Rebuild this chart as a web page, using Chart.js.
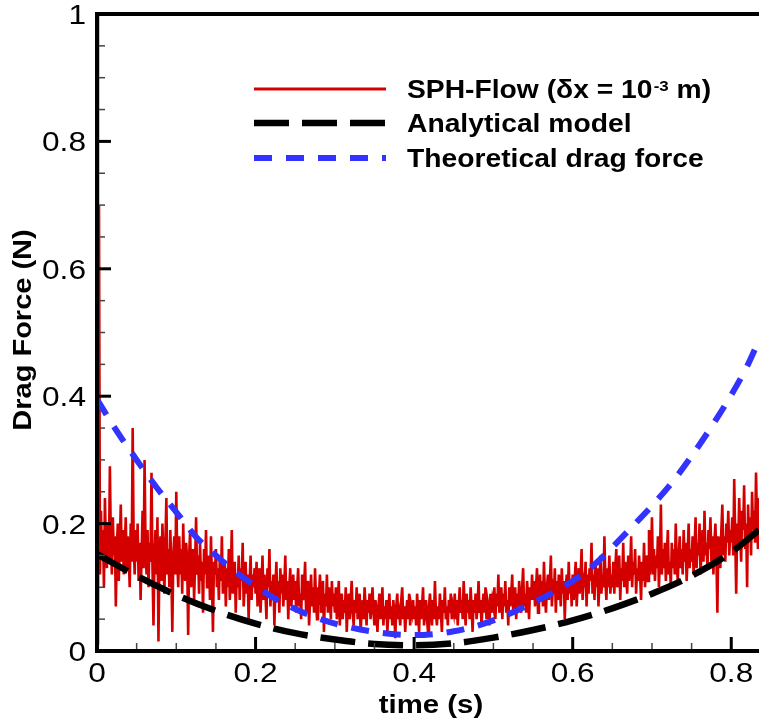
<!DOCTYPE html>
<html>
<head>
<meta charset="utf-8">
<script src="https://cdn.jsdelivr.net/npm/chart.js@4.4.1/dist/chart.umd.min.js"></script>
<style>
  html, body { margin: 0; padding: 0; background: #fff; }
  #wrap { width: 759px; height: 724px; }
</style>
</head>
<body>
<div id="wrap"><canvas id="dragChart" width="759" height="724"></canvas></div>
<script>
// SPH-Flow signal, one value every 0.00125 s starting at t = 0 (40 values per 0.05 s)
const sphStep = 0.00125;
const sphForce = [
  1.3, 0.01, 0.7, 0.12, 0.22, 0.15, 0.19, 0.1, 0.24, 0.16,
  0.13, 0.2, 0.14, 0.29, 0.17, 0.12, 0.21, 0.15, 0.18, 0.07,
  0.16, 0.2, 0.11, 0.17, 0.23, 0.14, 0.19, 0.12, 0.16, 0.21,
  0.13, 0.18, 0.15, 0.1, 0.2, 0.14, 0.35, 0.17, 0.12, 0.19,
  // 0.05
  0.14, 0.2, 0.11, 0.17, 0.08, 0.15, 0.22, 0.13, 0.3, 0.16,
  0.12, 0.19, 0.1, 0.17, 0.14, 0.28, 0.13, 0.04, 0.15, 0.19,
  0.12, 0.21, 0.015, 0.14, 0.18, 0.11, 0.2, 0.15, 0.09, 0.17,
  0.24, 0.12, 0.16, 0.1, 0.19, 0.13, 0.03, 0.15, 0.18, 0.12,
  // 0.1
  0.25, 0.14, 0.1, 0.18, 0.12, 0.16, 0.09, 0.2, 0.13, 0.11,
  0.17, 0.14, 0.025, 0.15, 0.19, 0.1, 0.13, 0.16, 0.08, 0.14,
  0.21, 0.12, 0.15, 0.09, 0.17, 0.11, 0.14, 0.06, 0.16, 0.12,
  0.19, 0.1, 0.13, 0.15, 0.08, 0.18, 0.11, 0.03, 0.14, 0.12,
  // 0.15
  0.16, 0.1, 0.13, 0.08, 0.15, 0.11, 0.18, 0.09, 0.12, 0.14,
  0.07, 0.13, 0.1, 0.16, 0.08, 0.12, 0.19, 0.09, 0.11, 0.14,
  0.06, 0.12, 0.1, 0.15, 0.08, 0.13, 0.11, 0.17, 0.07, 0.1,
  0.14, 0.09, 0.12, 0.05, 0.11, 0.15, 0.08, 0.12, 0.1, 0.13,
  // 0.2
  0.09, 0.14, 0.07, 0.11, 0.13, 0.06, 0.1, 0.15, 0.08, 0.12,
  0.09, 0.05, 0.13, 0.1, 0.16, 0.07, 0.11, 0.09, 0.12, 0.04,
  0.1, 0.14, 0.08, 0.11, 0.06, 0.13, 0.09, 0.12, 0.07, 0.1,
  0.15, 0.08, 0.11, 0.05, 0.1, 0.13, 0.07, 0.09, 0.12, 0.08,
  // 0.25
  0.11, 0.06, 0.1, 0.13, 0.07, 0.09, 0.05, 0.12, 0.08, 0.1,
  0.14, 0.06, 0.09, 0.11, 0.04, 0.08, 0.12, 0.07, 0.1, 0.06,
  0.13, 0.08, 0.05, 0.1, 0.09, 0.12, 0.06, 0.08, 0.11, 0.03,
  0.09, 0.07, 0.12, 0.06, 0.1, 0.08, 0.05, 0.11, 0.07, 0.09,
  // 0.3
  0.06, 0.1, 0.05, 0.08, 0.11, 0.04, 0.07, 0.09, 0.05, 0.08,
  0.06, 0.1, 0.03, 0.07, 0.09, 0.05, 0.08, 0.11, 0.06, 0.04,
  0.08, 0.06, 0.1, 0.05, 0.07, 0.09, 0.03, 0.06, 0.08, 0.05,
  0.1, 0.07, 0.04, 0.08, 0.06, 0.09, 0.05, 0.07, 0.1, 0.06,
  // 0.35
  0.04, 0.08, 0.06, 0.03, 0.07, 0.09, 0.05, 0.06, 0.1, 0.04,
  0.07, 0.05, 0.08, 0.03, 0.06, 0.09, 0.05, 0.07, 0.04, 0.08,
  0.06, 0.02, 0.07, 0.09, 0.05, 0.06, 0.04, 0.08, 0.1, 0.05,
  0.07, 0.03, 0.06, 0.08, 0.05, 0.09, 0.04, 0.07, 0.06, 0.08,
  // 0.4
  0.05, 0.07, 0.04, 0.09, 0.06, 0.03, 0.08, 0.05, 0.07, 0.1,
  0.04, 0.06, 0.08, 0.05, 0.03, 0.07, 0.09, 0.06, 0.04, 0.08,
  0.05, 0.11, 0.06, 0.04, 0.07, 0.05, 0.09, 0.06, 0.03, 0.08,
  0.06, 0.1, 0.05, 0.07, 0.04, 0.08, 0.06, 0.09, 0.05, 0.07,
  // 0.45
  0.06, 0.09, 0.05, 0.08, 0.04, 0.07, 0.1, 0.06, 0.08, 0.05,
  0.11, 0.07, 0.04, 0.09, 0.06, 0.08, 0.05, 0.1, 0.07, 0.03,
  0.08, 0.06, 0.09, 0.05, 0.07, 0.11, 0.06, 0.08, 0.04, 0.07,
  0.09, 0.06, 0.1, 0.05, 0.08, 0.07, 0.04, 0.09, 0.06, 0.08,
  // 0.5
  0.07, 0.1, 0.05, 0.09, 0.07, 0.12, 0.06, 0.08, 0.1, 0.05,
  0.09, 0.07, 0.11, 0.06, 0.08, 0.04, 0.1, 0.07, 0.09, 0.12,
  0.06, 0.08, 0.1, 0.05, 0.09, 0.07, 0.11, 0.08, 0.06, 0.1,
  0.13, 0.07, 0.09, 0.06, 0.11, 0.08, 0.05, 0.1, 0.08, 0.12,
  // 0.55
  0.08, 0.11, 0.07, 0.1, 0.13, 0.06, 0.09, 0.12, 0.08, 0.11,
  0.07, 0.14, 0.09, 0.06, 0.1, 0.12, 0.08, 0.11, 0.15, 0.07,
  0.1, 0.09, 0.13, 0.06, 0.11, 0.08, 0.12, 0.1, 0.07, 0.13,
  0.09, 0.11, 0.05, 0.1, 0.12, 0.08, 0.14, 0.09, 0.11, 0.07,
  // 0.6
  0.12, 0.08, 0.11, 0.14, 0.07, 0.1, 0.13, 0.09, 0.12, 0.16,
  0.08, 0.11, 0.1, 0.14, 0.07, 0.12, 0.09, 0.13, 0.11, 0.17,
  0.09, 0.12, 0.08, 0.14, 0.1, 0.13, 0.07, 0.11, 0.15, 0.09,
  0.12, 0.1, 0.18, 0.11, 0.08, 0.13, 0.1, 0.15, 0.09, 0.12,
  // 0.65
  0.1, 0.14, 0.09, 0.13, 0.16, 0.1, 0.12, 0.15, 0.08, 0.13,
  0.11, 0.17, 0.1, 0.14, 0.12, 0.09, 0.15, 0.11, 0.13, 0.18,
  0.1, 0.14, 0.12, 0.16, 0.09, 0.13, 0.11, 0.15, 0.12, 0.08,
  0.14, 0.11, 0.17, 0.1, 0.13, 0.15, 0.11, 0.19, 0.12, 0.14,
  // 0.7
  0.21, 0.12, 0.16, 0.11, 0.15, 0.13, 0.18, 0.1, 0.14, 0.23,
  0.12, 0.16, 0.13, 0.17, 0.11, 0.15, 0.19, 0.12, 0.14, 0.1,
  0.17, 0.13, 0.16, 0.12, 0.2, 0.14, 0.11, 0.15, 0.18, 0.13,
  0.16, 0.12, 0.19, 0.14, 0.17, 0.11, 0.15, 0.2, 0.13, 0.16,
  // 0.75
  0.14, 0.18, 0.12, 0.16, 0.21, 0.13, 0.17, 0.15, 0.2, 0.12,
  0.16, 0.19, 0.14, 0.22, 0.15, 0.17, 0.13, 0.19, 0.16, 0.21,
  0.14, 0.18, 0.12, 0.17, 0.2, 0.15, 0.06, 0.18, 0.16, 0.13,
  0.19, 0.23, 0.15, 0.18, 0.14, 0.2, 0.17, 0.22, 0.15, 0.19,
  // 0.8
  0.17, 0.21, 0.15, 0.27, 0.18, 0.09, 0.2, 0.16, 0.24, 0.18,
  0.14, 0.22, 0.19, 0.26, 0.16, 0.2, 0.1, 0.23, 0.17, 0.21,
  0.15, 0.25, 0.19, 0.22, 0.17, 0.28, 0.2, 0.16, 0.24
];

// analytical model
const modelTime  = [0, 0.05, 0.1, 0.15, 0.2, 0.25, 0.3, 0.35, 0.4, 0.45, 0.5, 0.55, 0.6, 0.65, 0.7, 0.75, 0.8, 0.835];
const modelForce = [0.152, 0.118, 0.088, 0.063, 0.043, 0.028, 0.018, 0.011, 0.009, 0.012, 0.021, 0.033, 0.048, 0.067, 0.09, 0.118, 0.155, 0.19];

// theoretical drag force
const theoryTime  = [0, 0.025, 0.05, 0.075, 0.1, 0.125, 0.15, 0.175, 0.2, 0.225, 0.25, 0.275, 0.3, 0.35, 0.4, 0.45, 0.5, 0.55, 0.6, 0.625, 0.65, 0.675, 0.7, 0.725, 0.75, 0.775, 0.8, 0.82, 0.835];
const theoryForce = [0.395, 0.345, 0.3, 0.257, 0.218, 0.179, 0.15, 0.124, 0.102, 0.082, 0.066, 0.053, 0.043, 0.03, 0.025, 0.031, 0.048, 0.076, 0.11, 0.133, 0.163, 0.195, 0.228, 0.264, 0.306, 0.352, 0.402, 0.447, 0.488];

const xMax = 0.835;
const xTitle = 'time (s)';
const yTitle = 'Drag Force (N)';
const legendNames = ['SPH-Flow (\u03b4x = 10-3 m)', 'Analytical model', 'Theoretical drag force'];

const labelFont = 'Liberation Sans, Arial, Helvetica, sans-serif';
const stretch = 1.13;   // text in the original is a bit wide

function toPoints(xs, ys) {
  return ys.map((v, i) => ({ x: xs[i], y: v }));
}
const sphPoints = sphForce.map((v, i) => ({ x: i * sphStep, y: v }));

function wideText(ctx, txt, x, y, align, sx) {
  ctx.save();
  ctx.translate(x, y);
  ctx.scale(sx || stretch, 1);
  ctx.textAlign = align;
  ctx.fillText(txt, 0, 0);
  ctx.restore();
}
const fmt = v => String(+v.toFixed(1));

// frame, inward ticks, tick labels and axis titles (tecplot look)
const framePlugin = {
  id: 'frame',
  afterDatasetsDraw(chart) {
    const { ctx, chartArea: a, scales } = chart;
    const xs = scales.x, ys = scales.y;
    ctx.save();
    ctx.lineCap = 'butt';
    // minor ticks
    ctx.strokeStyle = '#444';
    ctx.lineWidth = 1.5;
    for (let k = 1; k * 0.05 < xMax; k++) {
      if (k % 4 === 0) continue;
      const px = xs.getPixelForValue(k * 0.05);
      ctx.beginPath(); ctx.moveTo(px, a.bottom); ctx.lineTo(px, a.bottom - 8); ctx.stroke();
    }
    for (let k = 1; k < 20; k++) {
      if (k % 4 === 0) continue;
      const py = ys.getPixelForValue(k * 0.05);
      ctx.beginPath(); ctx.moveTo(a.left, py); ctx.lineTo(a.left + 8, py); ctx.stroke();
    }
    // major ticks
    ctx.strokeStyle = '#000';
    ctx.lineWidth = 3;
    xs.ticks.forEach(t => {
      const px = xs.getPixelForValue(t.value);
      ctx.beginPath(); ctx.moveTo(px, a.bottom); ctx.lineTo(px, a.bottom - 14); ctx.stroke();
    });
    ys.ticks.forEach(t => {
      const py = ys.getPixelForValue(t.value);
      ctx.beginPath(); ctx.moveTo(a.left, py); ctx.lineTo(a.left + 14, py); ctx.stroke();
    });
    // frame
    ctx.lineWidth = 4;
    ctx.beginPath();
    ctx.moveTo(a.right + 2, a.top);
    ctx.lineTo(a.left, a.top);
    ctx.lineTo(a.left, a.bottom);
    ctx.lineTo(a.right + 2, a.bottom);
    ctx.stroke();

    // tick labels
    ctx.fillStyle = '#000';
    ctx.textBaseline = 'alphabetic';
    ctx.font = '28px ' + labelFont;
    xs.ticks.forEach(t => {
      wideText(ctx, fmt(t.value), xs.getPixelForValue(t.value), a.bottom + 31, 'center');
    });
    ys.ticks.forEach(t => {
      wideText(ctx, fmt(t.value), a.left - 11, ys.getPixelForValue(t.value) + 10, 'right');
    });
    // axis titles
    ctx.font = 'bold 26px ' + labelFont;
    wideText(ctx, xTitle, (a.left + a.right) / 2 + 3, 713, 'center');
    ctx.save();
    ctx.translate(31, 330);
    ctx.rotate(-Math.PI / 2);
    ctx.font = 'bold 25px ' + labelFont;
    wideText(ctx, yTitle, 0, 0, 'center', 1.16);
    ctx.restore();
    ctx.restore();
  }
};

// legend drawn by hand so the superscript can be kept
const legendPlugin = {
  id: 'legendBox',
  afterDraw(chart) {
    const { ctx } = chart;
    const rowY = [89, 123, 158];
    ctx.save();
    rowY.forEach((y, i) => {
      const d = chart.data.datasets[i];
      ctx.strokeStyle = d.borderColor;
      ctx.lineWidth = i === 0 ? 3 : d.borderWidth;
      ctx.setLineDash(d.borderDash || []);
      ctx.beginPath(); ctx.moveTo(254, y); ctx.lineTo(386, y); ctx.stroke();
    });
    ctx.setLineDash([]);
    ctx.fillStyle = '#000';
    ctx.textBaseline = 'alphabetic';
    ctx.textAlign = 'left';
    ctx.translate(407, 0);
    ctx.scale(stretch, 1);
    const big = 'bold 25px ' + labelFont;
    const small = 'bold 15px ' + labelFont;
    // first entry: split around the exponent
    const [head, tail] = legendNames[0].split('10-3');
    ctx.font = big;
    let x = 0;
    ctx.fillText(head + '10', x, 98);
    x += ctx.measureText(head + '10').width;
    ctx.font = small;
    ctx.fillText('-3', x + 1, 91);
    x += ctx.measureText('-3').width + 1;
    ctx.font = big;
    ctx.fillText(tail, x, 98);
    ctx.fillText(legendNames[1], 0, 132);
    ctx.fillText(legendNames[2], 0, 167);
    ctx.restore();
  }
};

new Chart(document.getElementById('dragChart'), {
  type: 'line',
  data: {
    datasets: [
      {
        label: legendNames[0],
        data: sphPoints,
        borderColor: '#d40000',
        borderWidth: 2.6,
        pointRadius: 0,
        tension: 0,
        order: 3
      },
      {
        label: legendNames[1],
        data: toPoints(modelTime, modelForce),
        borderColor: '#000000',
        borderWidth: 6.5,
        borderDash: [35, 13],
        pointRadius: 0,
        cubicInterpolationMode: 'monotone',
        order: 2
      },
      {
        label: legendNames[2],
        data: toPoints(theoryTime, theoryForce),
        borderColor: '#3333ff',
        borderWidth: 6,
        borderDash: [18, 14],
        pointRadius: 0,
        cubicInterpolationMode: 'monotone',
        order: 1
      }
    ]
  },
  options: {
    responsive: false,
    animation: false,
    devicePixelRatio: 1,
    layout: { padding: { top: 14, right: 0, left: 0, bottom: 0 } },
    plugins: {
      legend: { display: false },
      tooltip: { enabled: false }
    },
    scales: {
      x: {
        type: 'linear',
        min: 0,
        max: xMax,
        grid: { display: false, drawTicks: false },
        border: { display: false },
        ticks: { display: false, stepSize: 0.2, includeBounds: false },
        afterFit: s => { s.height = 73; }
      },
      y: {
        type: 'linear',
        min: 0,
        max: 1,
        grid: { display: false, drawTicks: false },
        border: { display: false },
        ticks: { display: false, stepSize: 0.2 },
        afterFit: s => { s.width = 97; }
      }
    }
  },
  plugins: [framePlugin, legendPlugin]
});
</script>
</body>
</html>
